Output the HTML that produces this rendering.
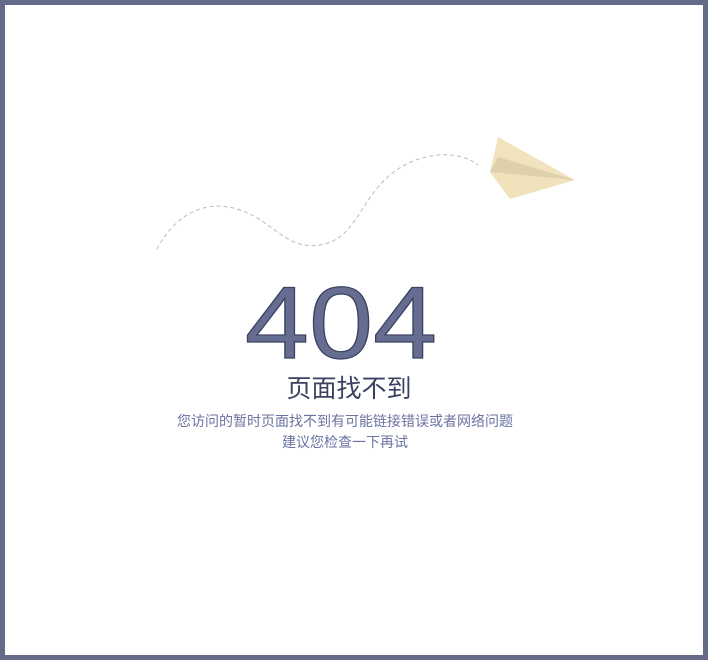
<!DOCTYPE html>
<html><head><meta charset="utf-8"><style>
html,body{margin:0;padding:0}
body{width:708px;height:660px;position:relative;background:#fff;overflow:hidden;font-family:"Liberation Sans","Noto Sans CJK SC",sans-serif}
.frame{position:absolute;left:0;top:0;width:698px;height:650px;border:5px solid #646b8a}
.t404{position:absolute;left:-4px;width:690px;text-align:center;top:263px;font-size:102px;line-height:120px;color:#656d91;-webkit-text-stroke:1.2px #3b4160;transform:scaleX(1.13);transform-origin:345px 0}
.title{position:absolute;left:4px;width:690px;text-align:center;top:374px;font-size:25px;line-height:30px;color:#3b4160}
.sub{position:absolute;left:0;width:690px;text-align:center;top:411px;font-size:14px;line-height:21px;color:#6b73a2}
</style></head><body>
<div class="frame"></div>
<svg width="708" height="660" style="position:absolute;left:0;top:0">
<path d="M157,249 C175,215 205,198 240,210 C275,222 285,250 320,245 C355,240 360,200 390,175 C420,150 460,150 478,165" fill="none" stroke="#bbb" stroke-width="1" stroke-dasharray="4,3"/>
<polygon points="498,137 575,180 490,172" fill="#f1e3bd"/>
<polygon points="490,172 575,180 510,199" fill="#f0e2bb"/>
<polygon points="498,157 575,180 490,172" fill="#ddd0ab"/>
</svg>
<div class="t404">404</div>
<div class="title">页面找不到</div>
<div class="sub">您访问的暂时页面找不到有可能链接错误或者网络问题<br>建议您检查一下再试</div>
</body></html>
